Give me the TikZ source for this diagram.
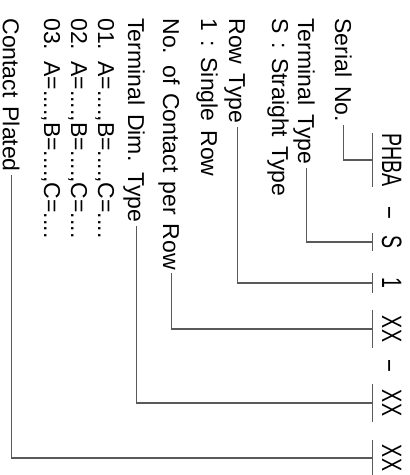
\documentclass[tikz,border=0pt]{standalone}
\usepackage{fontspec}
\setmainfont{Liberation Sans}[WordSpace=1.4]
\newfontfamily\codefont{Liberation Sans}[FakeStretch=0.7]
\begin{document}
\begin{tikzpicture}[x=0.5pt,y=0.5pt,
  partlabel/.style={rotate=-90,anchor=base west,inner xsep=1.5pt,inner ysep=0pt,
    text height=8.2pt,text depth=0pt,font=\fontsize{11.5}{13}\selectfont},
  codepart/.style={rotate=-90,anchor=base,inner xsep=0pt,inner ysep=4.5pt,
    text height=10pt,text depth=0pt,minimum width=#1,font=\codefont\fontsize{14}{16}\selectfont},
  codepart/.default=0pt,
  leader/.style={draw=black!65,line width=0.55pt}]
\useasboundingbox (0,0) rectangle (409,-475);
% part number
\node[codepart] (phba) at (382,-160) {PHBA};
\node[codepart] (dasha) at (382,-213) {–};
\node[codepart=8.5pt] (stype) at (382,-242) {S};
\node[codepart=9.5pt] (one) at (382,-283) {1};
\node[codepart=18.5pt] (xxa) at (382,-329) {XX};
\node[codepart] (dashb) at (382,-366) {–};
\node[codepart=18.5pt] (xxb) at (382,-403) {XX};
\node[codepart=18pt] (xxc) at (382,-458) {XX};
\foreach \n in {phba,stype,one,xxa,xxb,xxc}
  \draw[leader] (\n.south west) -- (\n.south east);
% descriptions
\node[partlabel] (serial) at (335,-15) {Serial No.};
\node[partlabel] (ttype) at (298,-15) {Terminal Type};
\node[partlabel] (straight) at (272,-15) {S : Straight Type};
\node[partlabel] (rowtype) at (229,-15) {Row Type};
\node[partlabel] (single) at (201,-15) {1 : Single Row};
\node[partlabel] (contacts) at (163,-15) {No. of Contact per Row};
\node[partlabel] (tdim) at (128,-15) {Terminal Dim. Type};
\node[partlabel] (done) at (98,-15) {01. A=....,B=....,C=....};
\node[partlabel] (dtwo) at (71,-15) {02. A=....,B=....,C=....};
\node[partlabel] (dthree) at (44,-15) {03. A=....,B=....,C=....};
\node[partlabel] (plated) at (3,-15) {Contact Plated};
\draw[leader] (serial.east) |- (phba.south);
\draw[leader] (ttype.east) |- (stype.south);
\draw[leader] (rowtype.east) |- (one.south);
\draw[leader] (contacts.east) |- (xxa.south);
\draw[leader] (tdim.east) |- (xxb.south);
\draw[leader] (plated.east) |- (xxc.south);
\end{tikzpicture}
\end{document}
